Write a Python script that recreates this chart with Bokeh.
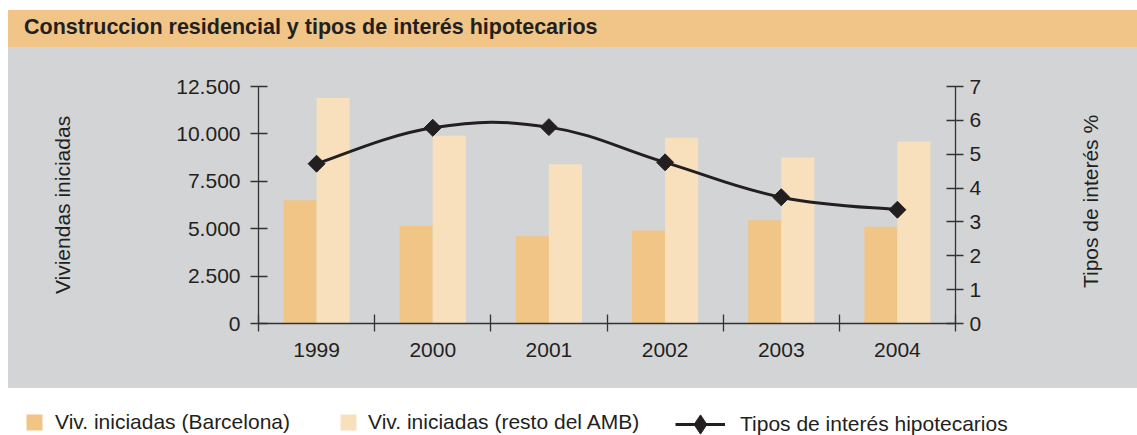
import math
from bokeh.plotting import figure
from bokeh.models import (Range1d, LinearAxis, FixedTicker, Label, Legend, LegendItem,
                          Spacer, Div)
from bokeh.layouts import column, row
from bokeh.embed import file_html
from bokeh.resources import INLINE

# ---------------- data ----------------
years = ["1999", "2000", "2001", "2002", "2003", "2004"]
viv_barcelona = [6500, 5150, 4600, 4900, 5450, 5100]
viv_resto_amb = [11900, 9900, 8400, 9800, 8750, 9600]
tipos_interes = [4.72, 5.78, 5.80, 4.76, 3.73, 3.36]
left_ticks = [0, 2500, 5000, 7500, 10000, 12500]
left_tick_labels = ["0", "2.500", "5.000", "7.500", "10.000", "12.500"]
right_ticks = [0, 1, 2, 3, 4, 5, 6, 7]

title_text = "Construccion residencial y tipos de interés hipotecarios"
left_label = "Viviendas iniciadas"
right_label = "Tipos de interés %"
legend_labels = ["Viv. iniciadas (Barcelona)", "Viv. iniciadas (resto del AMB)",
                 "Tipos de interés hipotecarios"]

# ---------------- style ----------------
FONT = "Liberation Sans"
TXT = "#231F20"
AX = "#333333"
BAND = "#F0C587"
GRAY = "#D3D4D6"
C_BCN = "#F0C585"
C_AMB = "#F8E0BD"

PAGE_W = 1137
LEFT_PAD = 8
W = PAGE_W - LEFT_PAD          # width of title band & grey chart panel
TITLE_H = 47                   # 10px white + 37px band
MAIN_H = 341
LEG_H = 47
SIDE_W = 97                    # grey strip holding the right-hand axis title
MAIN_W = W - SIDE_W

# ---------------- title band ----------------
title_div = Div(
    text=(f'<div style="width:{W}px;height:10px;background:white;"></div>'
          f'<div style="width:{W}px;height:37px;background:{BAND};padding-left:16px;'
          f'box-sizing:border-box;font-family:\'{FONT}\';font-weight:bold;font-size:21.5px;'
          f'line-height:35px;color:{TXT};white-space:nowrap;overflow:hidden;">{title_text}</div>'),
    width=W, height=TITLE_H, margin=0)

# ---------------- main chart ----------------
FL, FR, FT, FB = 250, 947, 39, 276   # frame box inside main figure

p = figure(width=MAIN_W, height=MAIN_H, output_backend="svg", toolbar_location=None,
           x_range=Range1d(0, len(years)), y_range=Range1d(0, 12500),
           min_border_left=FL, min_border_right=MAIN_W - FR,
           min_border_top=FT, min_border_bottom=MAIN_H - FB)
p.extra_y_ranges = {"rate": Range1d(0, 7)}
p.background_fill_color = GRAY
p.border_fill_color = GRAY
p.outline_line_color = None
p.xgrid.visible = False
p.ygrid.visible = False

xs = [i + 0.5 for i in range(len(years))]
off, bw = 0.142, 0.285
x_bcn = [x - off for x in xs]
x_amb = [x + off for x in xs]
p.vbar(x=x_bcn, top=viv_barcelona, bottom=0, width=bw, fill_color=C_BCN, line_color=None)
p.vbar(x=x_amb, top=viv_resto_amb, bottom=0, width=bw, fill_color=C_AMB, line_color=None)

# smoothed line: cubic bezier segments through the data points
K = 0.2
n = len(xs)
seg = dict(x0=[], y0=[], x1=[], y1=[], cx0=[], cy0=[], cx1=[], cy1=[])
for i in range(n - 1):
    a = max(i - 1, 0)
    b = min(i + 2, n - 1)
    seg["x0"].append(xs[i]); seg["y0"].append(tipos_interes[i])
    seg["x1"].append(xs[i + 1]); seg["y1"].append(tipos_interes[i + 1])
    seg["cx0"].append(xs[i] + K * (xs[i + 1] - xs[a]))
    seg["cy0"].append(tipos_interes[i] + K * (tipos_interes[i + 1] - tipos_interes[a]))
    seg["cx1"].append(xs[i + 1] - K * (xs[b] - xs[i]))
    seg["cy1"].append(tipos_interes[i + 1] - K * (tipos_interes[b] - tipos_interes[i]))
p.bezier(line_color=TXT, line_width=3, line_cap="round", y_range_name="rate", **seg)
p.scatter(x=xs, y=tipos_interes, marker="square", size=12, angle=math.pi / 4,
          fill_color=TXT, line_color=TXT, y_range_name="rate")


def style(ax):
    ax.axis_line_color = AX
    ax.axis_line_width = 1.3
    ax.major_tick_line_color = AX
    ax.major_tick_line_width = 1.3
    ax.major_tick_in = 9
    ax.major_tick_out = 8
    ax.minor_tick_line_color = None
    ax.major_label_text_font = FONT
    ax.major_label_text_font_size = "21px"
    ax.major_label_text_color = TXT
    ax.axis_label_text_font = FONT
    ax.axis_label_text_font_size = "21px"
    ax.axis_label_text_font_style = "normal"
    ax.axis_label_text_color = TXT


ly = p.yaxis[0]
style(ly)
ly.ticker = FixedTicker(ticks=left_ticks)
ly.major_label_overrides = {t: s for t, s in zip(left_ticks, left_tick_labels)}
ly.major_label_standoff = 10
ly.axis_label = left_label
ly.axis_label_standoff = 99

ry = LinearAxis(y_range_name="rate")
style(ry)
ry.ticker = FixedTicker(ticks=right_ticks)
ry.major_label_standoff = 6
p.add_layout(ry, "right")

xa = p.xaxis[0]
style(xa)
xa.ticker = FixedTicker(ticks=xs, minor_ticks=list(range(len(years) + 1)))
xa.major_tick_in = 0
xa.major_tick_out = 0
xa.minor_tick_line_color = AX
xa.minor_tick_line_width = 1.3
xa.minor_tick_in = 9
xa.minor_tick_out = 8
xa.major_label_overrides = {x: y for x, y in zip(xs, years)}
xa.major_label_standoff = 11

# ---------------- right-hand axis title strip ----------------
FH = FB - FT
sf = figure(width=SIDE_W, height=MAIN_H, output_backend="svg", toolbar_location=None,
            x_range=Range1d(0, SIDE_W), y_range=Range1d(0, FH),
            x_axis_type=None, y_axis_type=None,
            min_border_left=0, min_border_right=0,
            min_border_top=FT, min_border_bottom=MAIN_H - FB)
sf.background_fill_color = GRAY
sf.border_fill_color = GRAY
sf.outline_line_color = None
sf.add_layout(Label(x=50, y=323 - 201, text=right_label, angle=math.pi / 2,
                    text_align="center", text_baseline="alphabetic",
                    text_font=FONT, text_font_size="21px", text_color=TXT))

# ---------------- legend strip ----------------
lf = figure(width=PAGE_W, height=LEG_H, output_backend="svg", toolbar_location=None,
            x_range=Range1d(-7, -6), y_range=Range1d(-26000, -13000),
            x_axis_type=None, y_axis_type=None, min_border=0)
lf.background_fill_color = "white"
lf.border_fill_color = "white"
lf.outline_line_color = None
# legend keys: same series & styles, kept outside this strip's visible range
k_bcn = lf.vbar(x=x_bcn, top=viv_barcelona, bottom=0, width=bw, fill_color=C_BCN, line_color=None)
k_amb = lf.vbar(x=x_amb, top=viv_resto_amb, bottom=0, width=bw, fill_color=C_AMB, line_color=None)
k_line = lf.line(x=xs, y=tipos_interes, line_color=TXT, line_width=3)
k_pts = lf.scatter(x=xs, y=tipos_interes, marker="diamond", size=12,
                   fill_color=TXT, line_color=TXT)


def make_legend(label, renderers, x, y, gw, gh, standoff):
    lg = Legend(items=[LegendItem(label=label, renderers=renderers)],
                location=(x, y), orientation="horizontal",
                glyph_width=gw, glyph_height=gh, label_standoff=standoff,
                padding=0, margin=0, spacing=0,
                border_line_color=None, background_fill_alpha=0,
                label_text_font=FONT, label_text_font_size="21px",
                label_text_color=TXT, label_height=gh)
    lf.add_layout(lg)


make_legend(legend_labels[0], [k_bcn], 24, 1, 20, 20, 11)
make_legend(legend_labels[1], [k_amb], 338, 1, 20, 20, 10)
make_legend(legend_labels[2], [k_line, k_pts], 675, -13, 50, 48, 15)

chart_row = row(p, sf, styles={"background-color": GRAY})

layout = column(
    row(Spacer(width=LEFT_PAD, height=TITLE_H + MAIN_H),
        column(title_div, chart_row)),
    lf)

open("out.html", "w").write(file_html(layout, INLINE))
